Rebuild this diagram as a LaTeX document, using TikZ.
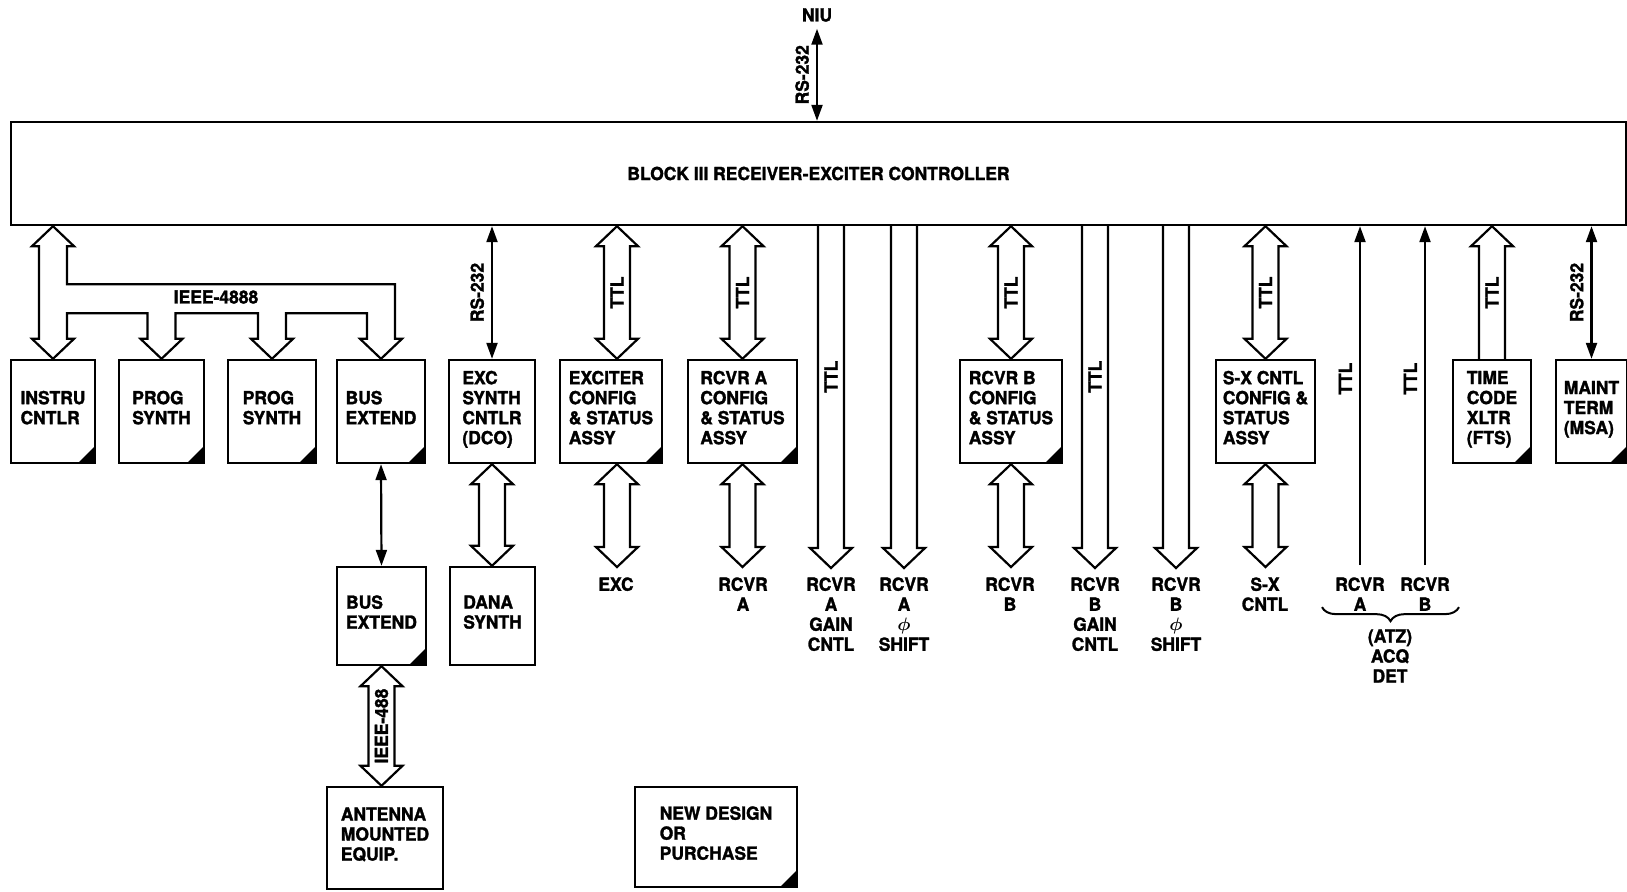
\documentclass[tikz,border=0pt]{standalone}
\usepackage{fontspec}
\setmainfont{TeX Gyre Heros}[FakeStretch=0.97,BoldFeatures={FakeBold=1.6}]
\usetikzlibrary{arrows.meta,calc,decorations.pathreplacing}

% Wide bus arrows on one vertical line: shaft half-width 6.5pt,
% head half-width 10.5pt, head length 10pt.
% #1 = upper end, #2 = lower end (only its y is used)
\newcommand\fatboth[2]{%
  \draw[fat] let \p1=#1, \p2=#2 in
    (\x1,\y1) -- (\x1+10.5pt,\y1-10pt) -- (\x1+6.5pt,\y1-10pt)
    -- (\x1+6.5pt,\y2+10pt) -- (\x1+10.5pt,\y2+10pt) -- (\x1,\y2)
    -- (\x1-10.5pt,\y2+10pt) -- (\x1-6.5pt,\y2+10pt)
    -- (\x1-6.5pt,\y1-10pt) -- (\x1-10.5pt,\y1-10pt) -- cycle;}
\newcommand\fatdown[2]{%
  \draw[fat] let \p1=#1, \p2=#2 in
    (\x1-6.5pt,\y1) -- (\x1-6.5pt,\y2+10pt) -- (\x1-10.5pt,\y2+10pt)
    -- (\x1,\y2) -- (\x1+10.5pt,\y2+10pt) -- (\x1+6.5pt,\y2+10pt)
    -- (\x1+6.5pt,\y1);}
\newcommand\fatup[2]{%
  \draw[fat] let \p1=#1, \p2=#2 in
    (\x1-6.5pt,\y2) -- (\x1-6.5pt,\y1-10pt) -- (\x1-10.5pt,\y1-10pt)
    -- (\x1,\y1) -- (\x1+10.5pt,\y1-10pt) -- (\x1+6.5pt,\y1-10pt)
    -- (\x1+6.5pt,\y2);}

\begin{document}
\begin{tikzpicture}[x=0.5pt,y=-0.5pt,
  font=\fontsize{9}{10}\selectfont\bfseries,
  >={Triangle[length=8pt,width=5.5pt]},
  frame/.style={draw, line width=1.2pt, inner sep=0pt},
  unit/.style={frame, align=left, text depth=4pt},
  marked/.style={unit, path picture={\fill
      ([xshift=0.6pt,yshift=-0.6pt]path picture bounding box.south east)
      -- ++(-9.6pt,0pt) -- ++(9.6pt,9.6pt) -- cycle;}},
  fat/.style={line width=1.1pt, line join=miter},
  thin/.style={line width=1.1pt},
  vlbl/.style={rotate=90, inner sep=0pt},
  sidelbl/.style={xshift=-3.5pt, vlbl, anchor=south},
  lbl/.style={align=center, inner sep=0pt, anchor=north},
]
\useasboundingbox (0,0) rectangle (1627,891);

% ---- controller and network interface
\node[frame, minimum width=807.5pt, minimum height=51.5pt] (ctrl) at (818.5,173.5)
  {BLOCK III RECEIVER-EXCITER CONTROLLER};
\node (niu) at (817,15) {NIU};

% ---- units below the controller
\node[marked, minimum width=42pt,   minimum height=51.5pt] (instru)  at (53,411.5)   {INSTRU\\CNTLR};
\node[marked, minimum width=42.5pt, minimum height=51.5pt] (prog1)   at (161.5,411.5) {PROG\\SYNTH};
\node[marked, minimum width=44pt,   minimum height=51.5pt] (prog2)   at (272,411.5)  {PROG\\SYNTH};
\node[marked, minimum width=44pt,   minimum height=51.5pt] (busx)    at (381,411.5)  {BUS\\EXTEND};
\node[unit,   minimum width=43pt,   minimum height=51.5pt] (excsyn)  at (492,411.5)  {EXC\\SYNTH\\CNTLR\\(DCO)};
\node[marked, minimum width=51pt,   minimum height=51.5pt] (exciter) at (611,411.5)  {EXCITER\\CONFIG\\\& STATUS\\ASSY};
\node[marked, minimum width=54.5pt, minimum height=51.5pt] (rcvra)   at (742.5,411.5) {RCVR A\\CONFIG\\\& STATUS\\ASSY};
\node[marked, minimum width=51pt,   minimum height=51.5pt] (rcvrb)   at (1011,411.5) {RCVR B\\CONFIG\\\& STATUS\\ASSY};
\node[unit,   minimum width=49.5pt, minimum height=51.5pt] (sx)      at (1265.5,411.5) {S-X CNTL\\CONFIG \&\\STATUS\\ASSY};
\node[marked, minimum width=39pt,   minimum height=51.5pt] (tcode)   at (1492,411.5) {TIME\\CODE\\XLTR\\(FTS)};
\node[marked, minimum width=35.5pt, minimum height=51.5pt] (maint)   at (1591.5,411.5) {MAINT\\TERM\\(MSA)};

% ---- second and third rows
\node[marked, minimum width=44.5pt, minimum height=49pt] (busx2)   at (381.5,616) {BUS\\EXTEND};
\node[unit,   minimum width=42.5pt, minimum height=49pt] (dana)    at (492.5,616) {DANA\\SYNTH};
\node[unit,   minimum width=58pt,   minimum height=51pt] (antenna) at (385,838)   {ANTENNA\\MOUNTED\\EQUIP.};
\node[marked, minimum width=81pt,   minimum height=50pt] (newdes)  at (716,837)   {NEW DESIGN\\OR\\PURCHASE};

% ---- destinations of the lower interfaces
\coordinate (excx) at ([xshift=3pt]exciter.center);
\node[lbl] (lexc) at (616,577)  {EXC};
\node[lbl] (lra)  at (743,577)  {RCVR\\A};
\node[lbl] (lga)  at (831,577)  {RCVR\\A\\GAIN\\CNTL};
\node[lbl] (lpa)  at (904,577)  {RCVR\\A\\{\boldmath$\phi$}\\SHIFT};
\node[lbl] (lrb)  at (1010,577) {RCVR\\B};
\node[lbl] (lgb)  at (1095,577) {RCVR\\B\\GAIN\\CNTL};
\node[lbl] (lpb)  at (1176,577) {RCVR\\B\\{\boldmath$\phi$}\\SHIFT};
\node[lbl] (lsx)  at (1265,577) {S-X\\CNTL};
\node[lbl] (aqa)  at (1360,577) {RCVR\\A};
\node[lbl] (aqb)  at (1425,577) {RCVR\\B};
\node[lbl] (aqd)  at (1390,629) {(ATZ)\\ACQ\\DET};
\draw[line width=1pt, decorate, decoration={brace, mirror, amplitude=7pt}]
  ([xshift=-19pt,yshift=2pt]aqa.south) -- ([xshift=17pt,yshift=2pt]aqb.south);

% ---- serial links
\draw[thin,<->] (niu.south) -- node[sidelbl]{RS-232} (niu.south |- ctrl.north);
\draw[thin,<->] (excsyn.north |- ctrl.south) -- node[sidelbl]{RS-232} (excsyn.north);
\draw[thin,<->] (maint.north |- ctrl.south) -- node[sidelbl]{RS-232} (maint.north);
\draw[thin,<->] (busx.south) -- (busx2.north);

% ---- IEEE-488 instrument bus
\draw[fat] let \p1=(ctrl.south), \p2=(instru.north), \p3=(prog1.north),
               \p4=(prog2.north), \p5=(busx.north) in
  (\x2,\y1) -- (\x2+10.5pt,\y1-10pt) -- (\x2+7pt,\y1-10pt) -- (\x2+7pt,\y1-29pt)
  -- (\x5+7pt,\y1-29pt) -- (\x5+7pt,\y5+10pt) -- (\x5+10.5pt,\y5+10pt) -- (\x5,\y5)
  -- (\x5-10.5pt,\y5+10pt) -- (\x5-7pt,\y5+10pt) -- (\x5-7pt,\y1-43.5pt)
  -- (\x4+7pt,\y1-43.5pt) -- (\x4+7pt,\y4+10pt) -- (\x4+10.5pt,\y4+10pt) -- (\x4,\y4)
  -- (\x4-10.5pt,\y4+10pt) -- (\x4-7pt,\y4+10pt) -- (\x4-7pt,\y1-43.5pt)
  -- (\x3+7pt,\y1-43.5pt) -- (\x3+7pt,\y3+10pt) -- (\x3+10.5pt,\y3+10pt) -- (\x3,\y3)
  -- (\x3-10.5pt,\y3+10pt) -- (\x3-7pt,\y3+10pt) -- (\x3-7pt,\y1-43.5pt)
  -- (\x2+7pt,\y1-43.5pt) -- (\x2+7pt,\y2+10pt) -- (\x2+10.5pt,\y2+10pt) -- (\x2,\y2)
  -- (\x2-10.5pt,\y2+10pt) -- (\x2-7pt,\y2+10pt) -- (\x2-7pt,\y1-10pt)
  -- (\x2-10.5pt,\y1-10pt) -- cycle;
\node (ieee) at (216,297) {IEEE-4888};

% ---- TTL buses between controller and units
\fatboth{(excx |- ctrl.south)}{(excx |- exciter.north)}
\path (excx |- ctrl.south) -- node[vlbl]{TTL} (excx |- exciter.north);
\fatboth{(rcvra.north |- ctrl.south)}{(rcvra.north)}
\path (rcvra.north |- ctrl.south) -- node[vlbl]{TTL} (rcvra.north);
\fatboth{(rcvrb.north |- ctrl.south)}{(rcvrb.north)}
\path (rcvrb.north |- ctrl.south) -- node[vlbl]{TTL} (rcvrb.north);
\fatboth{(sx.north |- ctrl.south)}{(sx.north)}
\path (sx.north |- ctrl.south) -- node[vlbl]{TTL} (sx.north);
\fatup{(tcode.north |- ctrl.south)}{(tcode.north)}
\path (tcode.north |- ctrl.south) -- node[vlbl]{TTL} (tcode.north);

% ---- TTL outputs straight from the controller
\fatdown{(lga.north |- ctrl.south)}{([yshift=4.5pt]lga.north)}
\path (lga.north |- ctrl.south) -- node[pos=0.44, vlbl]{TTL} ([yshift=4.5pt]lga.north);
\fatdown{(lpa.north |- ctrl.south)}{([yshift=4.5pt]lpa.north)}
\fatdown{(lgb.north |- ctrl.south)}{([yshift=4.5pt]lgb.north)}
\path (lgb.north |- ctrl.south) -- node[pos=0.44, vlbl]{TTL} ([yshift=4.5pt]lgb.north);
\fatdown{(lpb.north |- ctrl.south)}{([yshift=4.5pt]lpb.north)}

% ---- acquisition detector inputs
\draw[thin,->] ([yshift=6pt]aqa.north) -- node[pos=0.55, sidelbl]{TTL} (aqa.north |- ctrl.south);
\draw[thin,->] ([yshift=6pt]aqb.north) -- node[pos=0.55, sidelbl]{TTL} (aqb.north |- ctrl.south);

% ---- unit side interfaces
\fatboth{(excsyn.south)}{(dana.north)}
\fatboth{(excx |- exciter.south)}{([yshift=5pt]lexc.north)}
\fatboth{(rcvra.south)}{([yshift=5pt]lra.north)}
\fatboth{(rcvrb.south)}{([yshift=5pt]lrb.north)}
\fatboth{(sx.south)}{([yshift=5pt]lsx.north)}
\fatboth{(busx2.south)}{(busx2.south |- antenna.north)}
\path (busx2.south) -- node[vlbl]{IEEE-488} (busx2.south |- antenna.north);
\end{tikzpicture}
\end{document}
